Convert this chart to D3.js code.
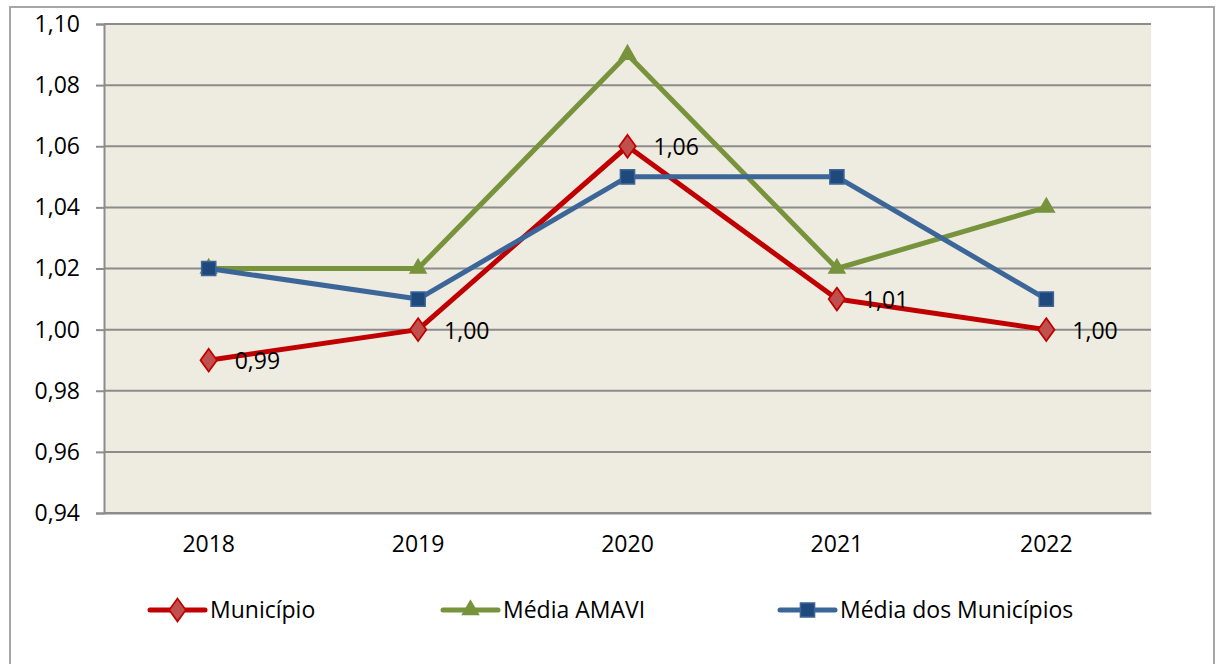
<!DOCTYPE html>
<html>
<head>
<meta charset="utf-8">
<script src="https://cdn.jsdelivr.net/npm/d3@7"></script>
<style>
  body { margin: 0; background: #fff; }
  svg { display: block; }
  text { font-family: "Open Sans", "Noto Sans", sans-serif; fill: #000; }
</style>
</head>
<body>
<svg></svg>
<script>
let years = ["2018", "2019", "2020", "2021", "2022"];
let municipio = [0.99, 1.00, 1.06, 1.01, 1.00];
let mediaAmavi = [1.02, 1.02, 1.09, 1.02, 1.04];
let mediaMunicipios = [1.02, 1.01, 1.05, 1.05, 1.01];
let yTicks = [0.94, 0.96, 0.98, 1.00, 1.02, 1.04, 1.06, 1.08, 1.10];

var svgWidth = 1221, svgHeight = 664;
var svg = d3.select("svg")
            .attr("width", svgWidth)
            .attr("height", svgHeight);

// outer chart border
svg.append("rect")
   .attr("x", 10).attr("y", 7)
   .attr("width", 1204).attr("height", 670)
   .attr("fill", "#fff")
   .attr("stroke", "#a6a6a6")
   .attr("stroke-width", 2);

var plotLeft = 104, plotRight = 1151, plotTop = 24, plotBottom = 513;

var xScale = d3.scaleBand()
               .domain(years)
               .range([plotLeft, plotRight]);
var yScale = d3.scaleLinear()
               .domain([0.94, 1.10])
               .range([plotBottom, plotTop]);
var xc = d => xScale(d) + xScale.bandwidth() / 2;
var fmt = d => d3.format(".2f")(d).replace(".", ",");
var fs = 23;

svg.append("rect")
   .attr("x", plotLeft).attr("y", plotTop)
   .attr("width", plotRight - plotLeft).attr("height", plotBottom - plotTop)
   .attr("fill", "#eeebe0");

// gridlines
svg.selectAll("line.grid")
   .data(yTicks)
   .enter()
   .append("line")
   .attr("class", "grid")
   .attr("x1", plotLeft).attr("x2", plotRight)
   .attr("y1", d => yScale(d)).attr("y2", d => yScale(d))
   .attr("stroke", "#8c8c8c")
   .attr("stroke-width", 2);

// y axis
var yAxis = d3.axisLeft(yScale)
              .tickValues(yTicks)
              .tickFormat(fmt)
              .tickSize(8)
              .tickPadding(16);
var gy = svg.append("g")
            .attr("transform", `translate(${plotLeft},0)`)
            .call(yAxis);
gy.select(".domain").attr("stroke", "#8c8c8c").attr("stroke-width", 2);
gy.selectAll(".tick line").attr("stroke", "#8c8c8c").attr("stroke-width", 2);
gy.selectAll(".tick text").attr("font-size", fs).style("font-family", "'Open Sans', sans-serif");

// x axis
var xAxis = d3.axisBottom(xScale).tickSize(0).tickPadding(23);
var gx = svg.append("g")
            .attr("transform", `translate(0,${plotBottom})`)
            .call(xAxis);
gx.select(".domain").attr("stroke", "#8c8c8c").attr("stroke-width", 2);
gx.selectAll(".tick text").attr("font-size", fs).style("font-family", "'Open Sans', sans-serif");

var series = [
  { name: "Município", values: municipio, line: "#c00000", fill: "#c0504d", stroke: "#c00000", symbol: d3.symbolDiamond, size: 150 },
  { name: "Média AMAVI", values: mediaAmavi, line: "#77933c", fill: "#77933c", stroke: "#77933c", symbol: d3.symbolTriangle, size: 110 },
  { name: "Média dos Municípios", values: mediaMunicipios, line: "#3c6598", fill: "#1f497d", stroke: "#3c6598", symbol: d3.symbolSquare, size: 200 }
];

var line = d3.line()
             .x((d, i) => xc(years[i]))
             .y(d => yScale(d));

function marker(g, s, x, y) {
  var sym = d3.symbol().type(s.symbol).size(s.size);
  g.append("path")
   .attr("d", sym())
   .attr("transform", `translate(${x},${y})` + (s.symbol === d3.symbolDiamond ? " scale(1.25,1)" : ""))
   .attr("fill", s.fill)
   .attr("stroke", s.stroke)
   .attr("stroke-width", 1.5);
}

series.forEach(s => {
  svg.append("path")
     .datum(s.values)
     .attr("d", line)
     .attr("fill", "none")
     .attr("stroke", s.line)
     .attr("stroke-width", 5)
     .attr("stroke-linejoin", "round");
  var g = svg.append("g");
  s.values.forEach((v, i) => marker(g, s, xc(years[i]), yScale(v)));
});

// data labels for Município
svg.selectAll("text.lbl")
   .data(municipio)
   .enter()
   .append("text")
   .attr("class", "lbl")
   .attr("x", (d, i) => xc(years[i]) + 26)
   .attr("y", d => yScale(d) + 1)
   .attr("dy", "0.35em")
   .attr("font-size", fs)
   .text(fmt);

// legend
var legendX = [150, 443, 780];
series.forEach((s, i) => {
  var g = svg.append("g").attr("transform", `translate(${legendX[i]},610)`);
  g.append("line")
   .attr("x1", 0).attr("x2", 55)
   .attr("stroke", s.line)
   .attr("stroke-width", 5)
   .attr("stroke-linecap", "round");
  marker(g, s, 27.5, 0);
  g.append("text")
   .attr("x", 60)
   .attr("dy", "0.35em")
   .attr("font-size", fs)
   .text(s.name);
});
</script>
</body>
</html>
